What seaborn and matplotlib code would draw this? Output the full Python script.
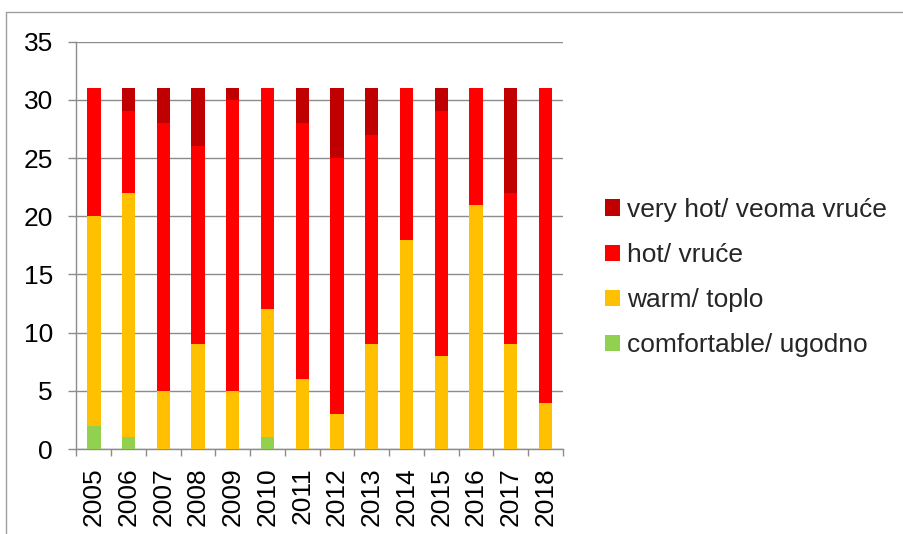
import numpy as np
import pandas as pd
import matplotlib
matplotlib.use("Agg")
import matplotlib.pyplot as plt
import seaborn as sns
from matplotlib.patches import Patch
from matplotlib.lines import Line2D

sns.set_style("white")
plt.rcParams['font.family'] = ['Liberation Sans', 'DejaVu Sans']

# data
years = ["2005", "2006", "2007", "2008", "2009", "2010", "2011",
         "2012", "2013", "2014", "2015", "2016", "2017", "2018"]
comfortable = [2, 1, 0, 0, 0, 1, 0, 0, 0, 0, 0, 0, 0, 0]
warm = [18, 21, 5, 9, 5, 11, 6, 3, 9, 18, 8, 21, 9, 4]
hot = [11, 7, 23, 17, 25, 19, 22, 22, 18, 13, 21, 10, 13, 27]
very_hot = [0, 2, 3, 5, 1, 0, 3, 6, 4, 0, 2, 0, 9, 0]

labels = ["comfortable/ ugodno", "warm/ toplo", "hot/ vruće", "very hot/ veoma vruće"]
colors = ["#92D050", "#FFC000", "#FF0000", "#C00000"]

data = pd.DataFrame({"year": years, labels[0]: comfortable, labels[1]: warm,
                     labels[2]: hot, labels[3]: very_hot})

fig = plt.figure(figsize=(9.04, 5.34), dpi=100)
ax = fig.add_axes([0.0846, 0.159, 0.538, 0.763])

# stacked bars: draw cumulative heights from top layer down
cum = data[labels].cumsum(axis=1)
for lab, col in zip(labels[::-1], colors[::-1]):
    sns.barplot(x=data["year"], y=cum[lab], color=col, width=0.385,
                saturation=1, linewidth=0, ax=ax, zorder=3)

ax.set_ylim(0, 35)
ax.set_yticks(range(0, 36, 5))
ax.set_xlim(-0.5, len(years) - 0.5)
ax.set_xlabel("")
ax.set_ylabel("")
ax.yaxis.grid(True, color="#8C8C8C", linewidth=1.0, zorder=0)
ax.set_axisbelow(True)

for s in ["top", "right"]:
    ax.spines[s].set_visible(False)
for s in ["left", "bottom"]:
    ax.spines[s].set_color("#8C8C8C")
    ax.spines[s].set_linewidth(1.0)

ax.tick_params(axis="y", direction="out", length=6, color="#8C8C8C",
               width=1, labelsize=19, pad=11, left=True, labelcolor="black")
ax.set_xticks(range(len(years)))
ax.set_xticklabels(years, rotation=90, fontsize=19)
ax.tick_params(axis="x", length=0, pad=13, labelcolor="black")
ax.set_xticks(np.arange(-0.5, len(years), 1), minor=True)
ax.tick_params(axis="x", which="minor", direction="out", length=5,
               color="#8C8C8C", width=1, bottom=True)

handles = [Patch(facecolor=c, edgecolor="none") for c in colors[::-1]]
fig.legend(handles, labels[::-1], loc="center left",
           bbox_to_anchor=(0.669, 0.480), frameon=False, fontsize=19,
           handlelength=0.58, handleheight=0.58, handletextpad=0.25,
           labelspacing=0.8, borderpad=0, borderaxespad=0)

# chart outer border (top and left edges visible)
fig.add_artist(Line2D([6.5 / 904, 6.5 / 904], [0, 1 - 11.5 / 534],
                      transform=fig.transFigure, color="#A0A0A0", linewidth=1))
fig.add_artist(Line2D([6.5 / 904, 1], [1 - 11.5 / 534, 1 - 11.5 / 534],
                      transform=fig.transFigure, color="#A0A0A0", linewidth=1))

fig.savefig("out.png", dpi=100)
